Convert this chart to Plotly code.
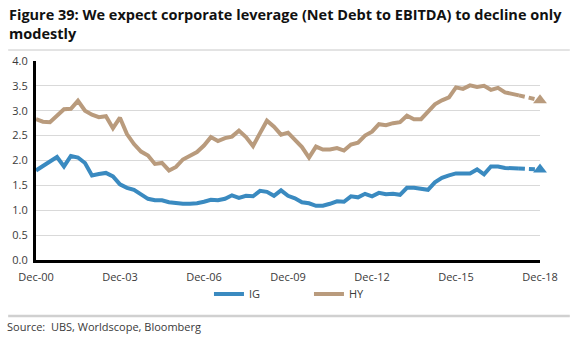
import pandas as pd
import plotly.graph_objects as go

# ---- data (quarterly, Dec-00 onwards) ----
ig = [1.80, 1.90, 1.98, 2.07, 1.88, 2.09, 2.06, 1.95, 1.70, 1.73,
      1.75, 1.68, 1.52, 1.45, 1.41, 1.32, 1.23, 1.20, 1.20, 1.16,
      1.14, 1.13, 1.13, 1.14, 1.17, 1.21, 1.20, 1.23, 1.30, 1.25,
      1.29, 1.28, 1.39, 1.37, 1.29, 1.40, 1.29, 1.24, 1.16, 1.14,
      1.09, 1.09, 1.13, 1.18, 1.17, 1.28, 1.26, 1.33, 1.28, 1.35,
      1.32, 1.33, 1.31, 1.45, 1.45, 1.42, 1.41, 1.56, 1.65, 1.70,
      1.74, 1.74, 1.74, 1.82, 1.72, 1.88, 1.88, 1.85, 1.85, 1.84]
hy = [2.83, 2.78, 2.77, 2.90, 3.03, 3.04, 3.20, 3.00, 2.92, 2.87,
      2.89, 2.65, 2.86, 2.53, 2.33, 2.18, 2.10, 1.93, 1.95, 1.80,
      1.87, 2.02, 2.09, 2.17, 2.30, 2.47, 2.39, 2.45, 2.48, 2.60,
      2.47, 2.29, 2.55, 2.80, 2.68, 2.52, 2.56, 2.43, 2.27, 2.06,
      2.28, 2.22, 2.22, 2.25, 2.20, 2.32, 2.36, 2.50, 2.58, 2.73,
      2.71, 2.75, 2.77, 2.90, 2.83, 2.83, 2.98, 3.13, 3.21, 3.27,
      3.47, 3.44, 3.51, 3.48, 3.50, 3.42, 3.46, 3.37, 3.34, 3.31]
ig_forecast = 1.82
hy_forecast = 3.21
forecast_date = "2018-12-01"
dates = pd.date_range("2000-12-01", periods=len(ig), freq="3MS")

IG_COL = "#3A8AC0"
HY_COL = "#B99B7D"
FONT = "Open Sans"

fig = go.Figure()
fig.add_trace(go.Scatter(x=dates, y=ig, mode="lines", name="IG",
                         line=dict(color=IG_COL, width=4)))
fig.add_trace(go.Scatter(x=dates, y=hy, mode="lines", name="HY",
                         line=dict(color=HY_COL, width=4)))
for vals, fc, col in [(ig, ig_forecast, IG_COL), (hy, hy_forecast, HY_COL)]:
    fig.add_trace(go.Scatter(x=[dates[-1], pd.Timestamp(forecast_date)], y=[vals[-1], fc],
                             mode="lines", showlegend=False, hoverinfo="skip",
                             line=dict(color=col, width=4, dash="6px,4px")))
    fig.add_trace(go.Scatter(x=[pd.Timestamp(forecast_date)], y=[fc], mode="markers",
                             showlegend=False, cliponaxis=False,
                             marker=dict(symbol="triangle-up", size=12, color=col)))

L, R, T, B = 33, 35, 61, 77
W, H = 575, 337
pw, ph = W - L - R, H - T - B

def px(x):
    return (x - L) / pw

def py(y):
    return (H - B - y) / ph

fig.update_layout(
    width=W, height=H,
    margin=dict(l=L, r=R, t=T, b=B),
    paper_bgcolor="white", plot_bgcolor="white",
    font=dict(family=FONT, size=11, color="#3a3a3a"),
    showlegend=True,
    legend=dict(orientation="h", x=px(207), xanchor="left", y=py(294), yanchor="middle",
                entrywidth=55, entrywidthmode="pixels",
                font=dict(family=FONT, size=11, color="#3a3a3a"),
                bgcolor="rgba(0,0,0,0)"),
    xaxis=dict(type="date", range=["2000-12-01", "2018-12-01"],
               tick0="2000-12-01", dtick="M36", tickformat="%b-%y",
               showgrid=False, showline=True, linecolor="black", linewidth=3,
               ticks="", zeroline=False, tickfont=dict(size=11), ticklabelstandoff=5),
    yaxis=dict(range=[0, 4], dtick=0.5, tickformat=".1f",
               showgrid=True, gridcolor="#d9d9d9", gridwidth=1,
               showline=True, linecolor="black", linewidth=3,
               ticks="", zeroline=False, tickfont=dict(size=11), ticklabelstandoff=3),
    shapes=[
        dict(type="line", xref="paper", yref="paper", x0=px(5), x1=px(570),
             y0=py(50), y1=py(50), line=dict(color="#c8c8c8", width=1)),
        dict(type="line", xref="paper", yref="paper", x0=px(5), x1=px(570),
             y0=py(316), y1=py(316), line=dict(color="#d0d0d0", width=2.5)),
    ],
    annotations=[
        dict(text="<b>Figure 39: We expect corporate leverage (Net Debt to EBITDA) to decline only<br>modestly</b>",
             xref="paper", yref="paper", x=px(4), y=py(3), xanchor="left", yanchor="top",
             align="left", showarrow=False,
             font=dict(family=FONT, size=14.5, color="#111111")),
        dict(text="Source:  UBS, Worldscope, Bloomberg", xref="paper", yref="paper",
             x=px(2), y=py(326), xanchor="left", yanchor="middle", showarrow=False,
             font=dict(family=FONT, size=11, color="#3a3a3a")),
    ],
)

fig.write_html("out.html")
